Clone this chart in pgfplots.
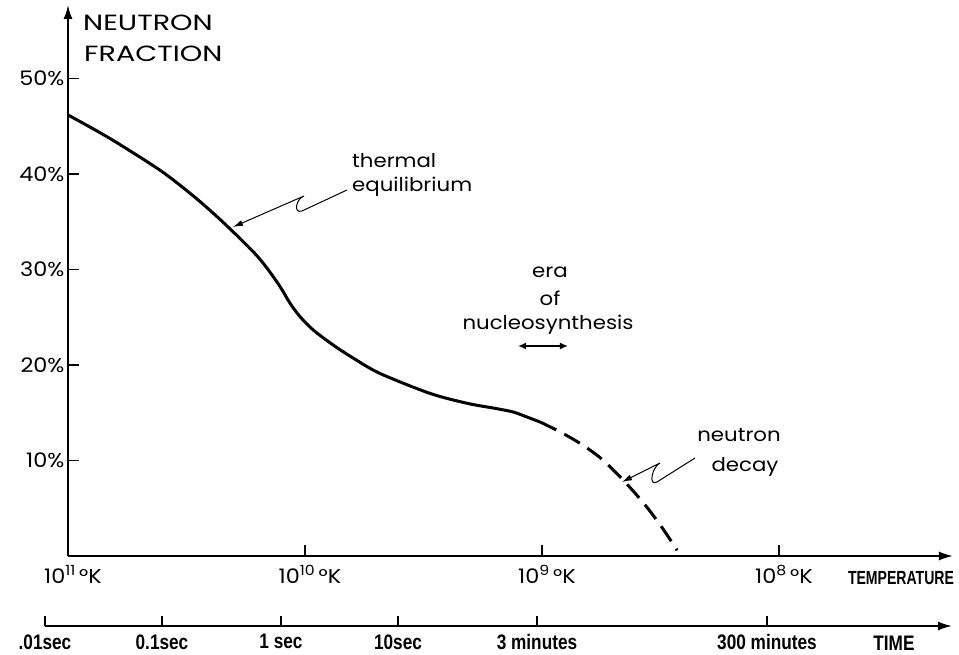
\documentclass[border=0pt]{standalone}
\usepackage{fontspec}
\setmainfont[FakeStretch=1.12]{Poppins}
\newfontfamily\capfont[FakeStretch=1.3]{Poppins}
\newfontfamily\condfont[FakeStretch=0.74]{Liberation Sans Bold}
\newfontfamily\timefont[FakeStretch=0.82]{Liberation Sans Bold}
\usepackage{pgfplots}
\pgfplotsset{compat=1.18}
\usetikzlibrary{arrows.meta}
\newcommand\mf[1]{\fontsize{#1bp}{#1bp}\selectfont}
\begin{document}
\begin{tikzpicture}
\begin{axis}[
  x=237bp, y=9.55bp,
  xmin=0, xmax=3.734, ymin=0, ymax=57.7,
  enlargelimits=false,
  axis lines=left,
  axis line style={line width=1.9pt, -{Latex[length=14bp,width=9bp]}},
  tick align=inside,
  major tick length=11bp,
  tick style={line width=1.2pt, black},
  xtick={0,1,2,3},
  xticklabels={10\textsuperscript{11}\,°K,10\textsuperscript{10}\,°K,10\textsuperscript{9}\,°K,10\textsuperscript{8}\,°K},
  ytick={10,20,30,40,50},
  yticklabels={10\%,20\%,30\%,40\%,50\%},
  tick label style={font=\mf{20}},
  xticklabel style={yshift=-6bp, xshift=5bp},
  clip=false,
]
\addplot[line width=3bp, smooth] coordinates {
(0,46.18) (0.177,43.72) (0.388,40.4) (0.515,37.98) (0.599,36.2) (0.684,34.25)
(0.782,31.85) (0.838,30.2) (0.895,28.2) (0.937,26.46) (0.979,25.06) (1.035,23.66)
(1.119,22.09) (1.203,20.73) (1.316,19.12) (1.527,17.03) (1.684,15.99) (1.793,15.5)
(1.878,15.08) (1.937,14.55) (1.992,14.03)};
\addplot[line width=3bp, smooth, dash pattern=on 18bp off 9bp] coordinates {
(1.992,14.03) (2.076,13.0) (2.16,11.8) (2.245,10.3) (2.329,8.3) (2.392,6.6)
(2.443,5.1) (2.506,3.0) (2.57,0.6)};
\end{axis}
\begin{axis}[
  at={(-23bp,-70bp)}, anchor=south west,
  x=1bp, y=1bp, xmin=0, xmax=907, ymin=0, ymax=10,
  enlargelimits=false,
  axis x line=bottom, hide y axis,
  axis line style={line width=1.9pt, -{Latex[length=14bp,width=9bp]}},
  tick align=inside,
  major tick length=10bp,
  tick style={line width=1.2pt, black},
  xtick={0,117,236,353,492,722},
  xticklabels={.01sec,0.1sec,1 sec,10sec,3 minutes,300 minutes},
  xticklabel style={font=\timefont\mf{21}, yshift=-5bp},
]
\addplot[draw=none] coordinates {(0,0) (907,10)};
\end{axis}
\begin{scope}[x=1bp, y=-1bp, shift={(-68bp,556bp)}]
\node[anchor=base west, font=\capfont\mf{22}, inner sep=0] at (83,31) {NEUTRON};
\node[anchor=base west, font=\capfont\mf{22}, inner sep=0] at (84,62) {FRACTION};
\node[anchor=base west, font=\mf{19}, inner sep=0] at (352,168) {thermal};
\node[anchor=base west, font=\mf{19}, inner sep=0] at (352,192) {equilibrium};
\node[anchor=base, font=\mf{19}, inner sep=0] at (550,278) {era};
\node[anchor=base, font=\mf{19}, inner sep=0] at (550,306) {of};
\node[anchor=base, font=\mf{19}, inner sep=0] at (548,330) {nucleosynthesis};
\node[anchor=base, font=\mf{19}, inner sep=0] at (739,442) {neutron};
\node[anchor=base, font=\mf{19}, inner sep=0] at (745,472) {decay};
\node[font=\condfont\mf{19}, inner sep=0] at (901,578) {TEMPERATURE};
\node[font=\timefont\mf{21}, inner sep=0] at (894,643) {TIME};
\draw[line width=1.6pt, {Latex[length=8bp,width=7bp]}-{Latex[length=8bp,width=7bp]}] (518,346) -- (568,346);
\draw[line width=1pt, -{Latex[length=10bp,width=6bp]}] (347,190) -- (302,211)
  .. controls (293,214) and (296,199) .. (304,196) -- (233,227);
\draw[line width=1pt, -{Latex[length=10bp,width=6bp]}] (695,458) -- (657,482)
  .. controls (648,487) and (652,467) .. (660,463) -- (622,482);
\end{scope}
\pgfresetboundingbox
\useasboundingbox (-68bp,-99bp) rectangle (891bp,556bp);
\end{tikzpicture}
\end{document}
